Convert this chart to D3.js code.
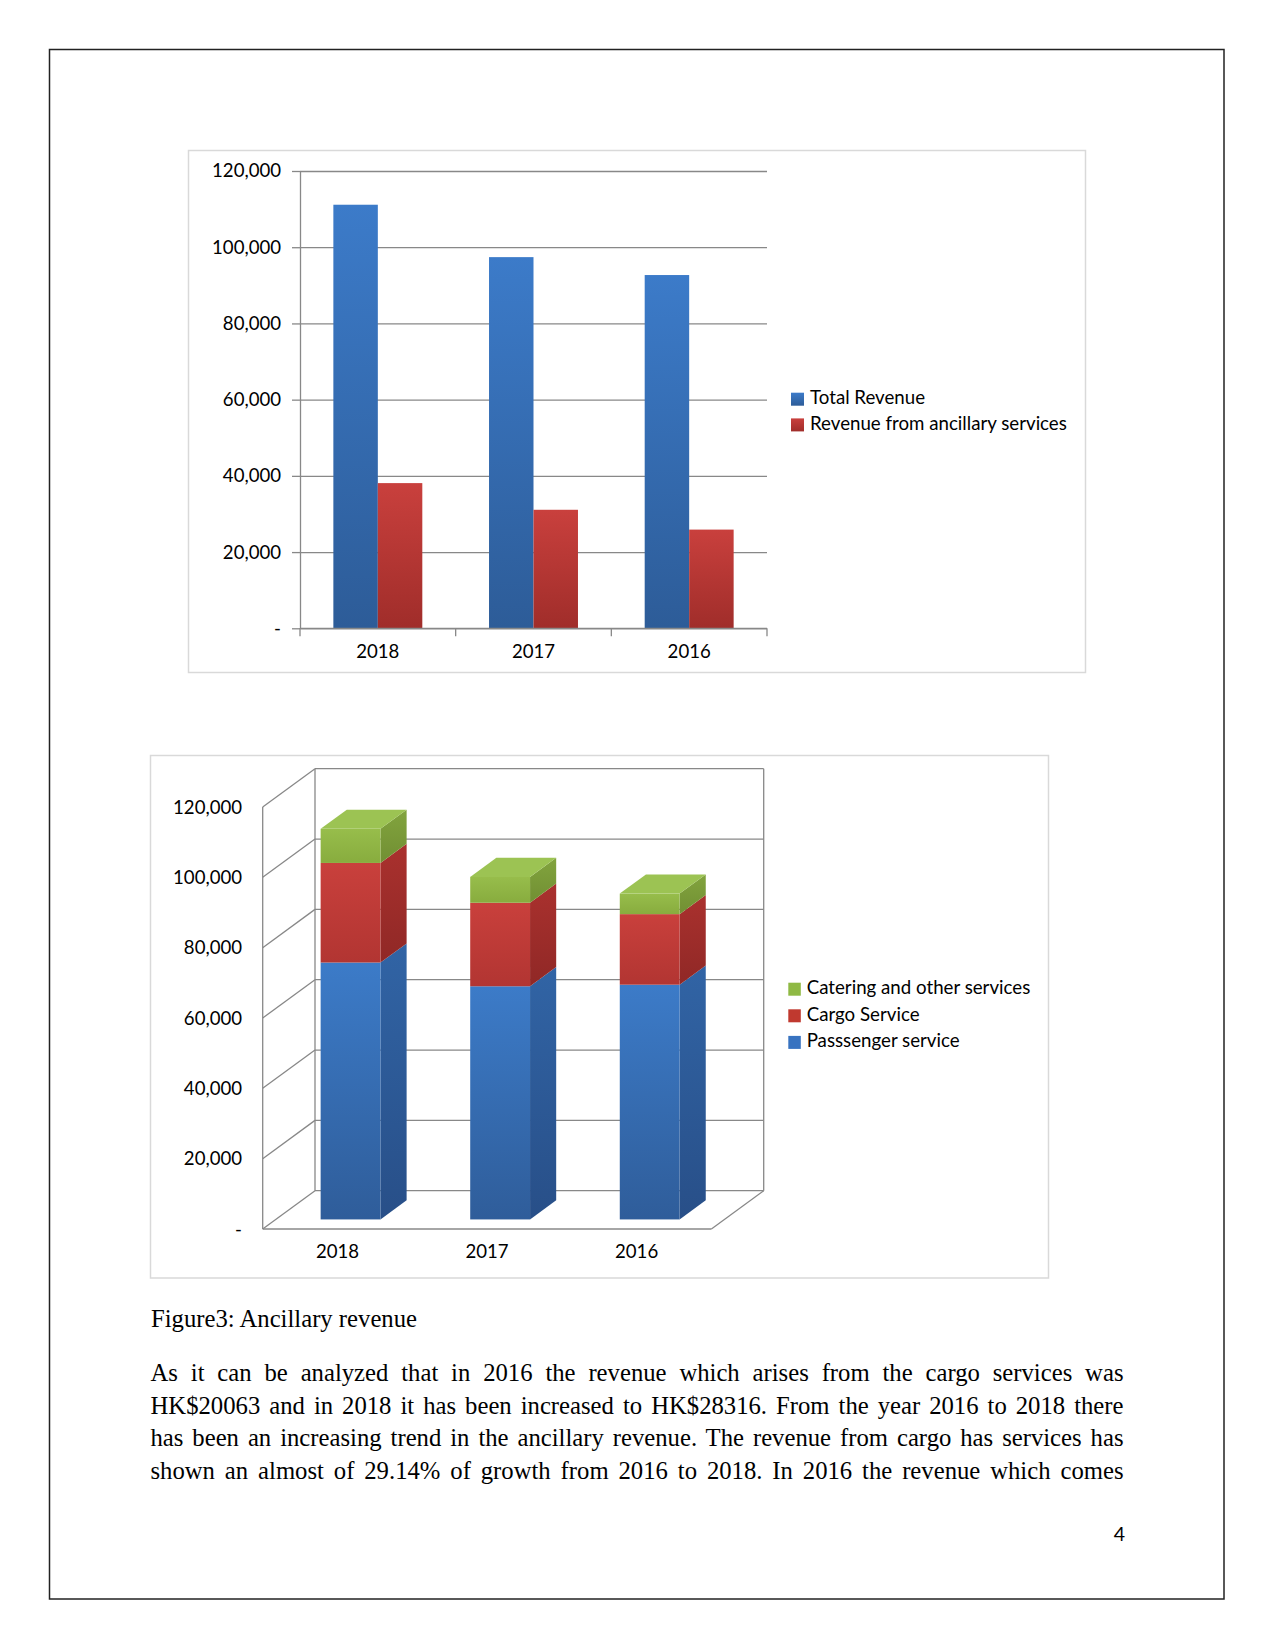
<!DOCTYPE html>
<html><head><meta charset="utf-8">
<script src="https://cdn.jsdelivr.net/npm/d3@7"></script>
<style>body{margin:0;background:#fff} svg{display:block}</style>
</head><body><svg id="page" width="1275" height="1651"></svg>
<script>
// ---------- data ----------
const categories = ["2018", "2017", "2016"];
const totalRevenue = [111150, 97400, 92700];
const ancillaryRevenue = [38100, 31100, 25900];
const passengerService = [73050, 66300, 66750];
const cargoService = [28316, 23750, 20063];
const cateringServices = [9700, 7350, 5850];
const yTicks = [0, 20000, 40000, 60000, 80000, 100000, 120000];
const chart1Series = ["Total Revenue", "Revenue from ancillary services"];
const chart2Series = ["Passsenger service", "Cargo Service", "Catering and other services"];
const captionText = "Figure3: Ancillary revenue";
const bodyLines = [
  "As it can be analyzed that in 2016 the revenue which arises from the cargo services was",
  "HK$20063 and in 2018 it has been increased to HK$28316. From the year 2016 to 2018 there",
  "has been an increasing trend in the ancillary revenue. The revenue from cargo has services has",
  "shown an almost of 29.14% of growth from 2016 to 2018. In 2016 the revenue which comes"
];
const pageNumber = "4";

// ---------- setup ----------
const svg = d3.select("#page");
const FONT = "Lato, 'Noto Sans', sans-serif";
const SERIF = "'Liberation Serif', 'Times New Roman', serif";
const tickFmt = d => d === 0 ? "-" : d3.format(",")(d);
const defs = svg.append("defs");
function grad(id, c0, c1) {
  const g = defs.append("linearGradient").attr("id", id).attr("x1", 0).attr("y1", 0).attr("x2", 0).attr("y2", 1);
  g.append("stop").attr("offset", "0%").attr("stop-color", c0);
  g.append("stop").attr("offset", "100%").attr("stop-color", c1);
}
grad("g1blue", "#3c7bc9", "#2d5c98");
grad("g1red", "#c9403d", "#a02d2a");
grad("fBlue", "#3c7bc8", "#2f5d9a");
grad("sBlue", "#3164a5", "#284f88");
grad("fRed", "#c9403c", "#b23532");
grad("sRed", "#aa312e", "#902826");
grad("fGreen", "#97bd4b", "#88ac3e");
grad("sGreen", "#82a43e", "#718f33");

// page border
svg.append("rect").attr("x", 49.5).attr("y", 49.5).attr("width", 1174.5).attr("height", 1549.5)
  .attr("fill", "none").attr("stroke", "#222").attr("stroke-width", 1.5);

// ---------- chart 1 ----------
svg.append("rect").attr("x", 188.5).attr("y", 150.5).attr("width", 897).attr("height", 522)
  .attr("fill", "#fff").attr("stroke", "#d9d9d9").attr("stroke-width", 1.5);

const x0 = d3.scaleBand().domain(categories).range([300, 767]).paddingInner(3 / 7).paddingOuter(1.5 / 7);
const x1 = d3.scaleBand().domain(chart1Series).range([0, x0.bandwidth()]);
const y1 = d3.scaleLinear().domain([0, 120000]).range([628.3, 171]);
const GRID = "#888888";

// gridlines
const gridAxis = d3.axisLeft(y1).tickValues(yTicks).tickSize(767 - 300).tickFormat("");
const gg = svg.append("g").attr("transform", "translate(767,0)").call(gridAxis);
gg.select(".domain").remove();
gg.selectAll("line").attr("stroke", GRID).attr("stroke-width", 1.3);

const yAx1 = d3.axisLeft(y1).tickValues(yTicks).tickFormat(tickFmt).tickSizeInner(8).tickSizeOuter(0).tickPadding(11);
const ya = svg.append("g").attr("transform", "translate(300,0)").call(yAx1);
ya.select(".domain").attr("stroke", GRID).attr("stroke-width", 1.3);
ya.selectAll("line").attr("stroke", GRID).attr("stroke-width", 1.3);
ya.selectAll("text").attr("font-family", FONT).attr("font-size", 18.6).attr("fill", "#000");

// bars
const c1data = categories.map((c, i) => ({ c, vals: [totalRevenue[i], ancillaryRevenue[i]] }));
const bg = svg.append("g").selectAll("g").data(c1data).join("g").attr("transform", d => `translate(${x0(d.c)},0)`);
bg.selectAll("rect").data(d => d.vals.map((v, k) => ({ s: chart1Series[k], v, k }))).join("rect")
  .attr("x", d => x1(d.s)).attr("width", x1.bandwidth())
  .attr("y", d => y1(d.v)).attr("height", d => y1(0) - y1(d.v))
  .attr("fill", d => d.k === 0 ? "url(#g1blue)" : "url(#g1red)");

// x axis
svg.append("line").attr("x1", 300).attr("x2", 767).attr("y1", y1(0)).attr("y2", y1(0)).attr("stroke", GRID).attr("stroke-width", 1.3);
const bounds = categories.map(c => x0(c) - x0.step() * x0.paddingInner() / 2).concat([767]);
bounds[0] = 300;
svg.append("g").selectAll("line").data(bounds).join("line")
  .attr("x1", d => d).attr("x2", d => d).attr("y1", y1(0)).attr("y2", y1(0) + 8)
  .attr("stroke", GRID).attr("stroke-width", 1.3);
svg.append("g").selectAll("text").data(categories).join("text")
  .attr("x", d => x0(d) + x0.bandwidth() / 2).attr("y", 658).attr("text-anchor", "middle")
  .attr("font-family", FONT).attr("font-size", 18.6).attr("fill", "#000").text(d => d);

// legend 1
const lg1 = svg.append("g").selectAll("g").data(chart1Series).join("g")
  .attr("transform", (d, i) => `translate(791,${392.7 + i * 25.7})`);
lg1.append("rect").attr("width", 13).attr("height", 13).attr("fill", (d, i) => i === 0 ? "url(#g1blue)" : "url(#g1red)");
lg1.append("text").attr("x", 19).attr("y", 11.5).attr("font-family", FONT).attr("font-size", 18.7).attr("fill", "#000").text(d => d);

// ---------- chart 2 (3D stacked) ----------
svg.append("rect").attr("x", 150.5).attr("y", 755.5).attr("width", 898).attr("height", 522.5)
  .attr("fill", "#fff").attr("stroke", "#d9d9d9").attr("stroke-width", 1.5);

const DX = 52.3, DY = -38.3;
const x2 = d3.scaleBand().domain(categories).range([262.7, 711.4]).paddingInner(0.6).paddingOuter(0.3);
const y2 = d3.scaleLinear().domain([0, 120000]).range([1229, 807]);
const P = (x, y, d) => [x + d * DX, y + d * DY];
const L = x2.range()[0], R = x2.range()[1];
const wall = svg.append("g").attr("stroke", GRID).attr("stroke-width", 1.3).attr("fill", "none");
const ln = (a, b) => wall.append("line").attr("x1", a[0]).attr("y1", a[1]).attr("x2", b[0]).attr("y2", b[1]);
yTicks.forEach(t => {
  ln(P(L, y2(t), 1), P(R, y2(t), 1));     // back wall grid
  ln(P(L, y2(t), 0), P(L, y2(t), 1));     // side wall grid
});
ln(P(L, y2(0), 1), P(L, y2(120000), 1));
ln(P(R, y2(0), 1), P(R, y2(120000), 1));
ln(P(L, y2(0), 0), P(L, y2(120000), 0));
ln(P(L, y2(0), 0), P(R, y2(0), 0));
ln(P(R, y2(0), 0), P(R, y2(0), 1));

const stackTable = categories.map((c, i) => ({ c, p: passengerService[i], g: cargoService[i], t: cateringServices[i] }));
const stacked = d3.stack().keys(["p", "g", "t"])(stackTable);
const faceFill = [["url(#fBlue)", "url(#sBlue)"], ["url(#fRed)", "url(#sRed)"], ["url(#fGreen)", "url(#sGreen)"]];
const bw = x2.bandwidth(), d0 = 0.25, d1 = 0.75;
const poly = pts => pts.map(p => p.join(",")).join(" ");
const barsG = svg.append("g");
categories.forEach((c, i) => {
  const xl = x2(c), xr = x2(c) + bw;
  const g = barsG.append("g");
  stacked.forEach((layer, k) => {
    const [v0, v1] = layer[i];
    g.append("polygon").attr("points", poly([P(xr, y2(v1), d0), P(xr, y2(v1), d1), P(xr, y2(v0), d1), P(xr, y2(v0), d0)]))
      .attr("fill", faceFill[k][1]);
    const a = P(xl, y2(v1), d0);
    g.append("rect").attr("x", a[0]).attr("y", a[1]).attr("width", bw).attr("height", y2(v0) - y2(v1))
      .attr("fill", faceFill[k][0]);
    if (k === stacked.length - 1) {
      g.append("polygon").attr("points", poly([P(xl, y2(v1), d0), P(xl, y2(v1), d1), P(xr, y2(v1), d1), P(xr, y2(v1), d0)]))
        .attr("fill", "#9cc353");
    }
  });
});

// y labels chart 2
svg.append("g").selectAll("text").data(yTicks).join("text")
  .attr("x", 242).attr("y", d => y2(d)).attr("dy", "0.35em").attr("text-anchor", "end")
  .attr("font-family", FONT).attr("font-size", 18.6).attr("fill", "#000").text(tickFmt);
svg.append("g").selectAll("text").data(categories).join("text")
  .attr("x", d => x2(d) + bw / 2).attr("y", 1258).attr("text-anchor", "middle")
  .attr("font-family", FONT).attr("font-size", 18.6).attr("fill", "#000").text(d => d);

// legend 2 (reverse order)
const legend2 = chart2Series.slice().reverse();
const legCols = ["#8fb944", "#c0392f", "#3873c0"];
const lg2 = svg.append("g").selectAll("g").data(legend2).join("g")
  .attr("transform", (d, i) => `translate(788.3,${982.7 + i * 26.6})`);
lg2.append("rect").attr("width", 12.5).attr("height", 13).attr("fill", (d, i) => legCols[i]);
lg2.append("text").attr("x", 18.4).attr("y", 11.5).attr("font-family", FONT).attr("font-size", 18.7).attr("fill", "#000").text(d => d);

// ---------- caption & body ----------
svg.append("text").attr("x", 151).attr("y", 1327).attr("font-family", SERIF).attr("font-size", 24.7).attr("fill", "#000").text(captionText);
const TW = 973;
bodyLines.forEach((t, i) => {
  const el = svg.append("text").attr("x", 150.5).attr("y", 1381 + i * 32.6)
    .attr("font-family", SERIF).attr("font-size", 24.7).attr("fill", "#000").text(t);
  const len = el.node().getComputedTextLength();
  const n = t.split(" ").length - 1;
  el.attr("word-spacing", (TW - len) / n);
});
svg.append("text").attr("x", 1125).attr("y", 1541).attr("text-anchor", "end")
  .attr("font-family", FONT).attr("font-size", 19.5).attr("fill", "#000").text(pageNumber);
</script>
</body></html>
